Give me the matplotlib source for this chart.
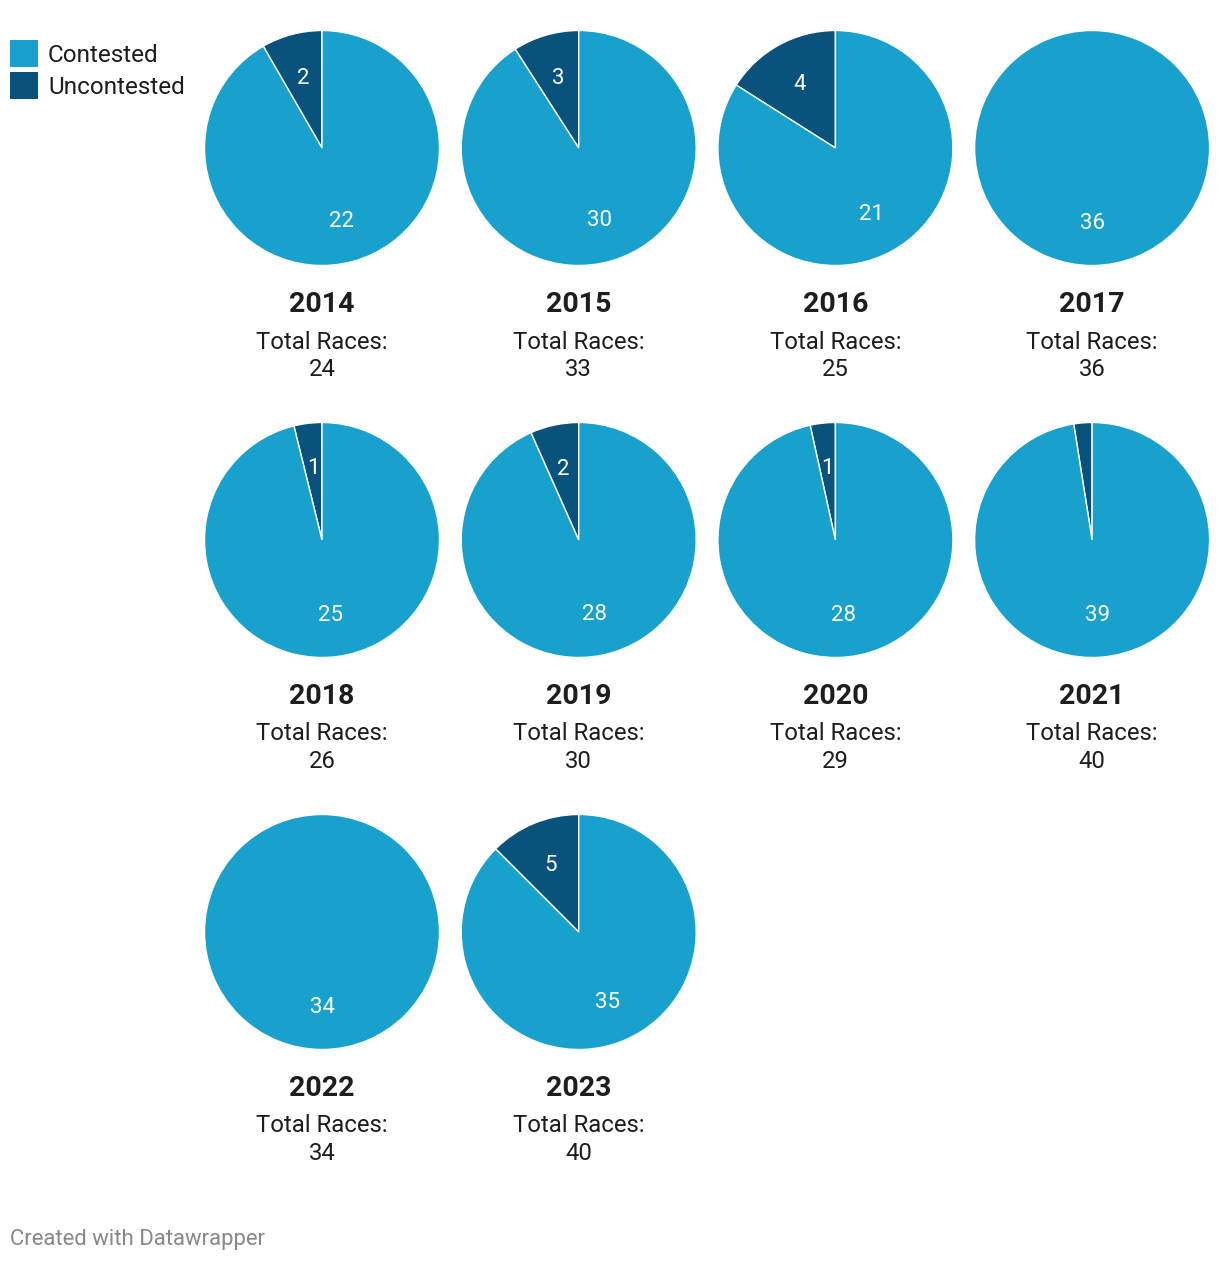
import matplotlib
matplotlib.use("Agg")
import matplotlib.pyplot as plt
from matplotlib.patches import Rectangle

plt.rcParams['font.family'] = ['Roboto', 'DejaVu Sans']

years = ["2014", "2015", "2016", "2017", "2018", "2019", "2020", "2021", "2022", "2023"]
contested = [22, 30, 21, 36, 25, 28, 28, 39, 34, 35]
uncontested = [2, 3, 4, 0, 1, 2, 1, 1, 0, 5]
total_races = [24, 33, 25, 36, 26, 30, 29, 40, 34, 40]
legend_labels = ["Contested", "Uncontested"]

C_CONT = "#18a1cd"
C_UNC = "#08527c"

W, H = 1220, 1262
DPI = 100
fig = plt.figure(figsize=(W / DPI, H / DPI), dpi=DPI)

R = 117.5
cx0, dx = 322, 256.7
cy0, dy = 148, 392


def fx(x):
    return x / W


def fy(y):
    return 1 - y / H


for i, yr in enumerate(years):
    col, row = i % 4, i // 4
    cx = cx0 + col * dx
    cy = cy0 + row * dy
    ax = fig.add_axes([fx(cx - R), fy(cy + R), 2 * R / W, 2 * R / H])
    vals, cols = [], []
    if uncontested[i] > 0:
        vals.append(uncontested[i]); cols.append(C_UNC)
    vals.append(contested[i]); cols.append(C_CONT)
    tot = sum(vals)
    labels = [str(v) if v / tot >= 0.03 else "" for v in vals]
    wedges, texts = ax.pie(vals, colors=cols, startangle=90, counterclock=True,
                           labels=labels, labeldistance=0.63, radius=1,
                           wedgeprops=dict(edgecolor="white", linewidth=1.0),
                           textprops=dict(color="white", fontsize=16))
    for t in texts:
        t.set_ha("center"); t.set_va("center")
        x, y = t.get_position()
        t.set_position((x, y - 1.8 / R))
    ax.set_xlim(-1.0, 1.0); ax.set_ylim(-1.0, 1.0)
    ax.set_aspect("equal")
    ax.axis("off")

    fig.text(fx(cx), fy(cy + 156), yr, ha="center", va="center",
             fontsize=20.5, fontweight="bold", color="#1d1d1d")
    fig.text(fx(cx), fy(cy + 194), "Total Races:", ha="center", va="center",
             fontsize=17.2, color="#1d1d1d")
    fig.text(fx(cx), fy(cy + 222), str(total_races[i]), ha="center", va="center",
             fontsize=17.2, color="#1d1d1d")

# legend
for j, (lab, c) in enumerate(zip(legend_labels, [C_CONT, C_UNC])):
    y0 = 40 + j * 32
    fig.patches.append(Rectangle((fx(10), fy(y0 + 27)), 28 / W, 27 / H,
                                 transform=fig.transFigure, facecolor=c,
                                 edgecolor="none"))
    fig.text(fx(48), fy(y0 + 15.5), lab, ha="left", va="center",
             fontsize=17.5, color="#1d1d1d")

fig.text(fx(10), fy(1239), "Created with Datawrapper", ha="left", va="center",
         fontsize=15.9, color="#888888")

fig.savefig("out.png", dpi=DPI, facecolor="white")
